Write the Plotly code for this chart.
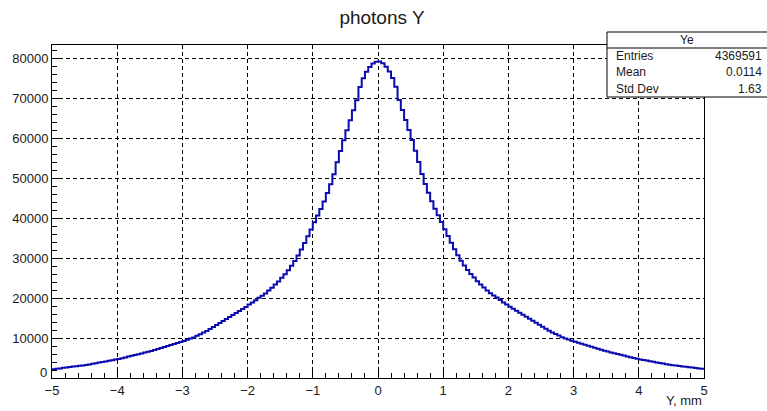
import plotly.graph_objects as go

# Histogram "photons Y": 200 bins from -5 to 5 (width 0.05)
bin_lo = -5.0
bin_width = 0.05

counts_left = [
    2200, 2300, 2400, 2550, 2650, 2750, 2850, 2950, 3050, 3150,
    3250, 3400, 3550, 3700, 3850, 4000, 4150, 4300, 4450, 4600,
    4750, 4950, 5150, 5350, 5550, 5750, 5950, 6150, 6350, 6550,
    6750, 7000, 7250, 7500, 7750, 8000, 8250, 8500, 8750, 9000,
    9250, 9550, 9850, 10150, 10550, 10950, 11350, 11750, 12250, 12750,
    13250, 13750, 14250, 14750, 15250, 15750, 16250, 16750, 17250, 17750,
    18350, 18850, 19450, 20050, 20550, 21150, 21850, 22550, 23350, 24150,
    25050, 25950, 26950, 28050, 29250, 30650, 32150, 33750, 35450, 37150,
    38950, 40650, 42250, 44150, 46250, 48450, 50950, 53950, 56750, 59450,
    61950, 64450, 66950, 69450, 72750, 74950, 76550, 77750, 78650, 79050,
]
counts_right = [
    79100, 78700, 77800, 76600, 75000, 72800, 69500, 67000, 64500, 62000,
    59500, 56800, 54000, 51000, 48500, 46300, 44200, 42300, 40700, 39000,
    37200, 35500, 33800, 32200, 30700, 29300, 28100, 27000, 26000, 25100,
    24200, 23400, 22600, 21900, 21200, 20600, 20100, 19500, 18900, 18400,
    17800, 17300, 16800, 16300, 15800, 15300, 14800, 14300, 13800, 13300,
    12800, 12300, 11800, 11400, 11000, 10600, 10200, 9900, 9600, 9300,
    9050, 8800, 8550, 8300, 8050, 7800, 7550, 7300, 7050, 6800,
    6600, 6400, 6200, 6000, 5800, 5600, 5400, 5200, 5000, 4800,
    4650, 4500, 4350, 4200, 4050, 3900, 3750, 3600, 3450, 3300,
    3200, 3100, 3000, 2900, 2800, 2700, 2600, 2500, 2400, 2300,
]
counts = counts_left + counts_right

x_ticks = [-5, -4, -3, -2, -1, 0, 1, 2, 3, 4, 5]
y_ticks = [0, 10000, 20000, 30000, 40000, 50000, 60000, 70000, 80000]

stats_name = "Ye"
stats_labels = ["Entries", "Mean", "Std Dev"]
stats_values = ["4369591", "0.0114", "1.63"]

# step line: left edges + final right edge
edges = [bin_lo + i * bin_width for i in range(len(counts) + 1)]
ys = counts + [counts[-1]]

fig = go.Figure()
fig.add_trace(go.Scatter(
    x=edges, y=ys, mode="lines", line=dict(shape="hv", color="#0b0bb0", width=2),
    hoverinfo="skip", showlegend=False,
))

L, R, T, B = 52, 63, 45, 33
W, H = 767, 411
pw, ph = W - L - R, H - T - B

def px(xp):
    return (xp - L) / pw

def py(yp):
    return (H - B - yp) / ph

FONT = "Liberation Sans, Arial, sans-serif"
tickfont = dict(family=FONT, size=13, color="#1a1a1a")

fig.update_layout(
    width=W, height=H, margin=dict(l=L, r=R, t=T, b=B),
    paper_bgcolor="white", plot_bgcolor="white",
    xaxis=dict(
        range=[-5, 5], tickvals=x_ticks,
        ticktext=[str(v) if v >= 0 else "\u2212" + str(-v) for v in x_ticks],
        ticks="inside", ticklen=9, tickwidth=1, tickcolor="black",
        minor=dict(dtick=0.2, ticks="inside", ticklen=5, tickcolor="black", showgrid=False),
        showline=True, linecolor="black", linewidth=1, mirror=True,
        showgrid=True, gridcolor="black", gridwidth=1, griddash="4px,3px",
        zeroline=False, tickfont=tickfont,
    ),
    yaxis=dict(
        range=[0, 83250], tickvals=y_ticks,
        ticktext=["" if v == 0 else str(v) for v in y_ticks],
        ticks="inside", ticklen=9, tickwidth=1, tickcolor="black",
        minor=dict(dtick=2000, ticks="inside", ticklen=5, tickcolor="black", showgrid=False),
        showline=True, linecolor="black", linewidth=1, mirror=True,
        showgrid=True, gridcolor="black", gridwidth=1, griddash="4px,3px",
        zeroline=False, tickfont=tickfont,
    ),
    title=dict(text="photons Y", x=px(382), xref="paper", y=1 - 17 / H, yanchor="middle",
               xanchor="center", font=dict(family=FONT, size=19, color="#1a1a1a")),
)

# y "0" label, lifted slightly as in the reference so it clears the "-5"
fig.add_annotation(text=str(y_ticks[0]), xref="paper", yref="paper", x=px(49), y=py(372),
                   xanchor="right", yanchor="middle", showarrow=False, font=tickfont)

# axis title
fig.add_annotation(text="Y, mm", xref="paper", yref="paper", x=1.0, y=py(401),
                   xanchor="right", yanchor="middle", showarrow=False,
                   font=dict(family=FONT, size=13, color="#1a1a1a"))

# stats box
fig.add_shape(type="rect", xref="paper", yref="paper", x0=px(607), x1=px(780), y0=py(97), y1=py(32),
              line=dict(color="black", width=1), fillcolor="white", layer="above")
fig.add_shape(type="line", xref="paper", yref="paper", x0=px(607), x1=px(780), y0=py(48), y1=py(48),
              line=dict(color="black", width=1), layer="above")
sfont = dict(family=FONT, size=12, color="#1a1a1a")
fig.add_annotation(text=stats_name, xref="paper", yref="paper", x=px(687), y=py(40),
                   xanchor="center", yanchor="middle", showarrow=False, font=sfont)
for i, (lab, val) in enumerate(zip(stats_labels, stats_values)):
    yy = py(56 + 16.5 * i)
    fig.add_annotation(text=lab, xref="paper", yref="paper", x=px(614), y=yy,
                       xanchor="left", yanchor="middle", showarrow=False, font=sfont)
    fig.add_annotation(text=val, xref="paper", yref="paper", x=px(764), y=yy,
                       xanchor="right", yanchor="middle", showarrow=False, font=sfont)

fig.write_html("out.html")
